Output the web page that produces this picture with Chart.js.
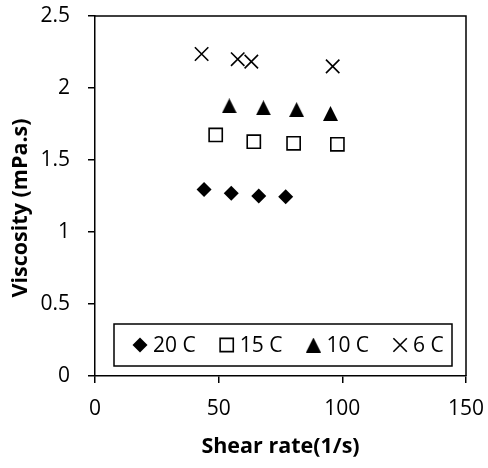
<!DOCTYPE html>
<html>
<head>
<meta charset="utf-8">
<script src="https://cdn.jsdelivr.net/npm/chart.js@4/dist/chart.umd.min.js"></script>
<style>
  html, body { margin: 0; padding: 0; background: #fff; }
  #wrap { width: 488px; height: 468px; }
</style>
</head>
<body>
<div id="wrap"><canvas id="c" width="488" height="468"></canvas></div>
<script>
// ---- data ----
const seriesNames = ['20 C', '15 C', '10 C', '6 C'];
const shear20 = [44.1, 55.1, 66.2, 77.1];
const visc20  = [1.296, 1.269, 1.250, 1.245];
const shear15 = [48.8, 64.2, 80.3, 98.0];
const visc15  = [1.674, 1.627, 1.616, 1.609];
const shear10 = [54.3, 68.1, 81.5, 95.2];
const visc10  = [1.876, 1.862, 1.850, 1.823];
const shear6  = [43.1, 57.7, 63.2, 96.1];
const visc6   = [2.236, 2.200, 2.183, 2.150];
const xTicks = [0, 50, 100, 150];
const yTicks = [0, 0.5, 1, 1.5, 2, 2.5];
const xTitle = 'Shear rate(1/s)';
const yTitle = 'Viscosity (mPa.s)';

const FONT = "'Open Sans', 'Liberation Sans', sans-serif";

// triangle marker (Excel-style: as tall as wide, centred on its box)
function makeTriangle(size) {
  const cv = document.createElement('canvas');
  cv.width = size; cv.height = size;
  const g = cv.getContext('2d');
  g.fillStyle = '#000';
  g.beginPath();
  g.moveTo(size / 2, 0);
  g.lineTo(size, size);
  g.lineTo(0, size);
  g.closePath();
  g.fill();
  return cv;
}
const tri = makeTriangle(15);

const styles = [
  { pointStyle: 'rectRot', pointRadius: 7.5, backgroundColor: '#000', borderColor: '#000', borderWidth: 0 },
  { pointStyle: 'rect', pointRadius: 9.3, backgroundColor: '#fff', borderColor: '#000', borderWidth: 1.6 },
  { pointStyle: tri, pointRadius: 8, backgroundColor: '#000', borderColor: '#000', borderWidth: 0 },
  { pointStyle: 'crossRot', pointRadius: 9.5, backgroundColor: '#000', borderColor: '#000', borderWidth: 1.6 }
];

function toPts(xs, ys) { return xs.map((x, i) => ({ x: x, y: ys[i] })); }
const allX = [shear20, shear15, shear10, shear6];
const allY = [visc20, visc15, visc10, visc6];

const datasets = seriesNames.map((name, i) => Object.assign({
  label: name,
  data: toPts(allX[i], allY[i]),
  showLine: false,
  pointHoverRadius: styles[i].pointRadius
}, styles[i]));

// frame around plot area + y title
const framePlugin = {
  id: 'frame',
  afterDraw(chart) {
    const a = chart.chartArea, ctx = chart.ctx;
    ctx.save();
    ctx.strokeStyle = '#000';
    ctx.lineWidth = 1.5;
    ctx.beginPath();
    ctx.moveTo(a.left, a.top);
    ctx.lineTo(a.right, a.top);
    ctx.lineTo(a.right, a.bottom);
    ctx.stroke();
    // y-axis title, rotated
    ctx.translate(a.left - 74, (a.top + a.bottom) / 2 + 12);
    ctx.rotate(-Math.PI / 2);
    ctx.font = 'bold 21.5px ' + FONT;
    ctx.fillStyle = '#000';
    ctx.textAlign = 'center';
    ctx.textBaseline = 'middle';
    ctx.fillText(yTitle, 0, 0);
    ctx.restore();
  }
};

// legend box inside plot, bottom
const legendPlugin = {
  id: 'boxLegend',
  afterDraw(chart) {
    const ctx = chart.ctx, a = chart.chartArea;
    const boxL = a.left + 19, boxR = a.right - 14, boxT = a.bottom - 52, boxB = a.bottom - 10;
    ctx.save();
    ctx.fillStyle = '#fff';
    ctx.fillRect(boxL, boxT, boxR - boxL, boxB - boxT);
    ctx.strokeStyle = '#000';
    ctx.lineWidth = 1.5;
    ctx.strokeRect(boxL, boxT, boxR - boxL, boxB - boxT);
    ctx.font = '21px ' + FONT;
    ctx.fillStyle = '#000';
    ctx.textBaseline = 'middle';
    const cy = (boxT + boxB) / 2;
    let x = boxL + 18;
    chart.data.datasets.forEach((ds) => {
      const st = ds.pointStyle;
      ctx.save();
      ctx.fillStyle = ds.backgroundColor;
      ctx.strokeStyle = ds.borderColor;
      ctx.lineWidth = ds.borderWidth;
      Chart.helpers.drawPoint(ctx, { pointStyle: st, radius: ds.pointRadius, rotation: 0, borderWidth: ds.borderWidth }, x + 8, cy);
      ctx.restore();
      ctx.fillStyle = '#000';
      ctx.fillText(ds.label, x + 21, cy + 1);
      x += 21 + ctx.measureText(ds.label).width + 23;
    });
    ctx.restore();
  }
};

function noPad(s) { s.paddingLeft = 0; s.paddingRight = 0; s.paddingTop = 0; s.paddingBottom = 0; }

new Chart(document.getElementById('c'), {
  type: 'scatter',
  data: { datasets: datasets },
  plugins: [framePlugin, legendPlugin],
  options: {
    responsive: false,
    animation: false,
    devicePixelRatio: 1,
    layout: { padding: { top: 16, right: 22, left: 0, bottom: 0 } },
    plugins: { legend: { display: false }, tooltip: { enabled: false } },
    scales: {
      x: {
        type: 'linear', min: 0, max: 150,
        afterBuildTicks(s) { s.ticks = xTicks.map(v => ({ value: v })); },
        afterFit(s) { s.height = 92; noPad(s); },
        grid: { drawOnChartArea: false, drawTicks: true, tickLength: 7, color: '#000', lineWidth: 1.5 },
        border: { display: true, color: '#000', width: 1.5 },
        ticks: { color: '#000', font: { family: FONT, size: 21 }, padding: 13, maxRotation: 0, callback: v => String(v) },
        title: { display: true, text: xTitle, color: '#000', font: { family: FONT, size: 21.5, weight: 'bold' }, padding: { top: 0, bottom: 8 } }
      },
      y: {
        type: 'linear', min: 0, max: 2.5,
        afterBuildTicks(s) { s.ticks = yTicks.map(v => ({ value: v })); },
        afterFit(s) { s.width = 95; noPad(s); },
        grid: { drawOnChartArea: false, drawTicks: true, tickLength: 7, color: '#000', lineWidth: 1.5 },
        border: { display: true, color: '#000', width: 1.5 },
        ticks: { color: '#000', font: { family: FONT, size: 21 }, padding: 18, callback: v => String(v) },
        title: { display: false }
      }
    }
  }
});
</script>
</body>
</html>
